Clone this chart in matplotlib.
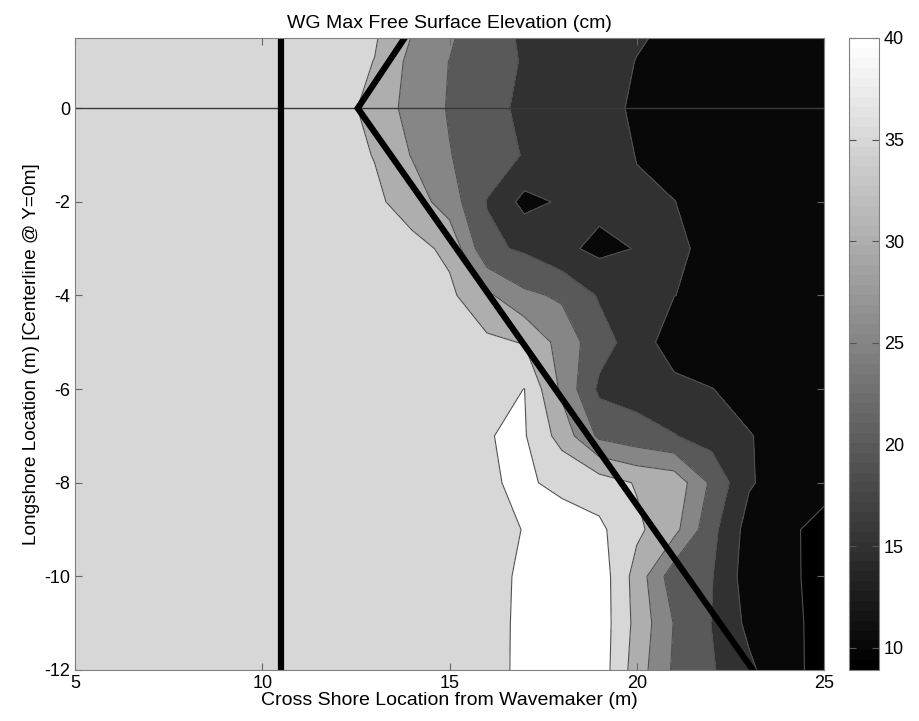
import numpy as np
import matplotlib
matplotlib.use("Agg")
import matplotlib.pyplot as plt
from matplotlib import cm, colors

plt.rcParams['font.family'] = ['Liberation Sans', 'DejaVu Sans']
plt.rcParams['axes.unicode_minus'] = False

# gauge grid (m) and max free surface elevation (cm)
x_pos = [5, 11, 12, 13, 14, 15, 16, 17, 18, 19, 20, 21, 22, 23, 24, 25]
y_pos = [2, 1, 0, -1, -2, -3, -4, -5, -6, -7, -8, -9, -10, -11, -12]
max_elev = [
    [37, 37, 37.0, 36.0, 31.0, 27.0, 20.8, 19.6, 18.3, 17.0, 15.8, 14.7, 13.5, 12.8, 12.3, 12.0],
    [37, 37, 37.0, 34.9, 28.5, 24.9, 22.1, 19.6, 18.1, 16.5, 14.9, 14.0, 13.0, 12.5, 12.0, 12.0],
    [37, 37, 37.5, 32.9, 28.3, 24.6, 21.4, 19.1, 17.6, 16.1, 14.5, 13.5, 12.8, 12.3, 12.0, 12.0],
    [37, 37, 37.0, 34.8, 29.7, 25.2, 22.3, 19.7, 18.1, 16.6, 14.9, 13.8, 13.0, 12.5, 12.2, 12.0],
    [37, 37, 37.0, 36.0, 32.7, 27.5, 19.8, 13.5, 15.6, 16.3, 15.4, 15.05, 13.8, 13.0, 12.5, 12.2],
    [37, 37, 37.0, 37.0, 36.5, 34.0, 21.0, 19.3, 16.1, 13.8, 15.2, 15.6, 14.2, 13.2, 12.7, 12.3],
    [37, 37, 37.0, 37.0, 37.0, 36.0, 31.0, 26.0, 24.3, 19.5, 16.0, 15.05, 14.0, 13.3, 12.8, 12.4],
    [37, 37, 37.0, 37.0, 37.0, 37.0, 36.0, 34.75, 28.0, 22.0, 17.65, 12.35, 11.8, 11.5, 11.2, 11.0],
    [37, 37, 37.0, 37.0, 37.0, 37.0, 38.5, 40.05, 29.0, 19.0, 18.0, 16.5, 15.1, 13.5, 12.5, 12.0],
    [37, 37, 37.0, 37.0, 37.0, 38.0, 39.9, 40.4, 33.0, 24.0, 22.0, 20.2, 18.0, 15.2, 13.5, 12.5],
    [37, 37, 37.0, 37.0, 37.0, 38.0, 39.8, 40.3, 39.5, 37.5, 34.6, 33.3, 24.0, 15.5, 12.5, 10.5],
    [37, 37, 37.0, 37.0, 37.0, 38.5, 39.5, 40.05, 41.0, 41.0, 36.0, 31.5, 21.5, 13.0, 10.3, 9.5],
    [37, 37, 37.0, 37.0, 37.0, 38.5, 39.2, 40.4, 41.0, 43.0, 33.0, 22.0, 20.3, 12.5, 10.5, 9.2],
    [37, 37, 37.0, 37.0, 37.0, 38.5, 39.0, 40.6, 42.0, 43.0, 33.5, 24.75, 19.9, 13.8, 10.6, 9.3],
    [37, 37, 37.0, 37.0, 37.0, 38.5, 38.9, 40.7, 42.0, 43.0, 32.5, 24.2, 20.5, 16.0, 11.0, 8.9],
]
levels = [10, 15, 20, 25, 30, 35, 40]
cbar_min, cbar_max = 8.9, 40
cbar_ticks = [10, 15, 20, 25, 30, 35, 40]

# wavemaker-side wall and breakwater outline
wall_x = 10.5
breakwater_x = [13.8, 12.55, 23.1]
breakwater_y = [1.5, 0, -12]

X, Y = np.meshgrid(x_pos, y_pos)
Z = np.array(max_elev)

fig = plt.figure(figsize=(9.19, 7.21), dpi=100)
ax = fig.add_axes([75 / 919, 51 / 721, 749 / 919, 632 / 721])
cax = fig.add_axes([849 / 919, 51 / 721, 30 / 919, 632 / 721])

cmap = plt.get_cmap('gray', 64)
norm = colors.Normalize(cbar_min, cbar_max)
fill_levels = [Z.min() - 0.1] + levels + [Z.max() + 0.1]
# matlab style: each band takes the colour of its lower level
fill_colors = [cmap(norm(v)) for v in [cbar_min] + levels]
ax.contourf(X, Y, Z, levels=fill_levels, colors=fill_colors)
ax.contour(X, Y, Z, levels=levels, colors='#505050', linewidths=0.8)

ax.axhline(0, color='#3a3a3a', lw=1)
ax.axvline(wall_x, color='k', lw=4.5)
ax.plot(breakwater_x, breakwater_y, color='k', lw=4.5, solid_joinstyle='miter')

ax.set_xlim(5, 25)
ax.set_ylim(-12, 1.5)
ax.set_xticks([5, 10, 15, 20, 25])
ax.set_yticks([-12, -10, -8, -6, -4, -2, 0])
ax.tick_params(direction='in', top=True, right=True, length=5, labelsize=13, color='#666666')
for s in ax.spines.values():
    s.set_color('#808080')
ax.set_xlabel('Cross Shore Location from Wavemaker (m)', fontsize=14, labelpad=0)
ax.set_ylabel('Longshore Location (m) [Centerline @ Y=0m]', fontsize=13.7, labelpad=3)
ax.set_title('WG Max Free Surface Elevation (cm)', fontsize=14, pad=7)

cb = fig.colorbar(cm.ScalarMappable(norm=norm, cmap=cmap), cax=cax, ticks=cbar_ticks)
cb.outline.set_edgecolor('#808080')
cax.tick_params(direction='in', left=True, right=True, length=5, labelsize=13, color='#555555')

fig.savefig('out.png', dpi=100)
